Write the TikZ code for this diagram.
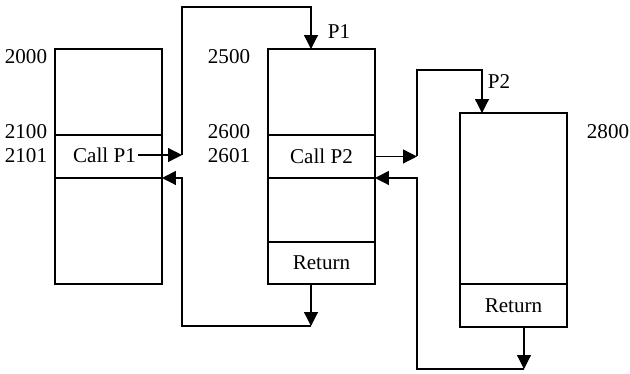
\documentclass[tikz,border=0pt]{standalone}
\usepackage{fontspec}
\setmainfont{Liberation Serif}
\usetikzlibrary{positioning,arrows.meta}

\begin{document}
\begin{tikzpicture}[x=0.02cm, y=-0.02cm, >={Triangle[length=2.8mm,width=2.8mm]},
                    font=\fontsize{12}{14}\selectfont, line width=0.7pt]
  \tikzstyle{cell}=[draw, minimum width=2.14cm, inner sep=0pt, outer sep=0pt]
  \tikzstyle{txt}=[inner sep=1pt]
  \useasboundingbox (0,0) rectangle (630,373);

  % --- chuong trinh chinh ---
  \node[cell, minimum height=1.72cm, anchor=north west] (a1) at (55,49) {};
  \node[cell, minimum height=0.86cm, below=0pt of a1] (a2) {};
  \node[cell, minimum height=2.12cm, below=0pt of a2] (a3) {};
  \node[txt] (callA) at (104.5,155) {Call P1};
  \node[txt] (n2000) at (26,57)    {2000};
  \node[txt] (n2100) at (26,132)   {2100};
  \node[txt] (n2101) at (26,155.5) {2101};

  % --- thu tuc P1 ---
  \node[cell, minimum height=1.72cm, anchor=north west] (b1) at (268,49) {};
  \node[cell, minimum height=0.86cm, below=0pt of b1] (b2) {Call P2};
  \node[cell, minimum height=1.28cm, below=0pt of b2] (b3) {};
  \node[cell, minimum height=0.84cm, below=0pt of b3] (b4) {Return};
  \node[txt] (n2500) at (229,57)    {2500};
  \node[txt] (n2600) at (229,132)   {2600};
  \node[txt] (n2601) at (229,155.5) {2601};
  \node[txt] (lP1)   at (339,32)    {P1};

  % --- thu tuc P2 ---
  \node[cell, minimum height=3.42cm, anchor=north west] (c1) at (460,113) {};
  \node[cell, minimum height=0.86cm, below=0pt of c1] (c2) {Return};
  \node[txt] (n2800) at (608,132) {2800};
  \node[txt] (lP2)   at (499,82)  {P2};

  % --- diem gay cua cac mui ten ---
  \coordinate (jA) at (182,155);
  \coordinate (p1) at (311,7);
  \coordinate (rA) at (311,326);
  \coordinate (jB) at (417,155);
  \coordinate (p2) at (482,70);
  \coordinate (rB) at (524,369);

  % --- goi va tro ve ---
  \draw[->] (callA.east) -- (jA);
  \draw[->] (jA) |- (p1) -- (p1 |- b1.north);
  \draw[->] (b4.south -| p1) -- (rA);
  \draw[->] (rA) -| (jA |- a2.south east) -- (a2.south east);
  \draw[->] (b2.east) -- (b2.east -| jB);
  \draw[->] (b2.east -| jB) |- (p2) -- (p2 |- c1.north);
  \draw[->] (c2.south -| rB) -- (rB);
  \draw[->] (rB) -| (jB |- b2.south east) -- (b2.south east);
\end{tikzpicture}
\end{document}
